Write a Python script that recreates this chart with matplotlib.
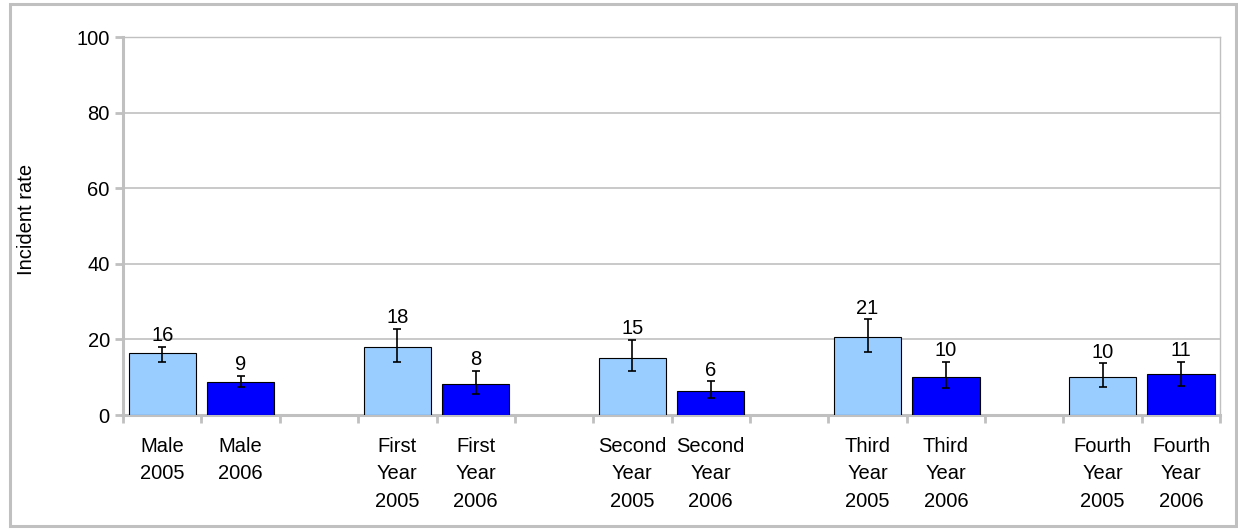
import matplotlib
matplotlib.use("Agg")
import matplotlib.pyplot as plt
from matplotlib.patches import Rectangle
import numpy as np

plt.rcParams['font.family'] = ['Liberation Sans', 'DejaVu Sans']

groups = ["Male", "First\nYear", "Second\nYear", "Third\nYear", "Fourth\nYear"]
years = ["2005", "2006"]
values_2005 = [16.3, 18.1, 15.0, 20.6, 10.0]
values_2006 = [8.8, 8.1, 6.3, 10.0, 10.8]
err_low_2005 = [14.0, 14.1, 11.7, 16.7, 7.3]
err_high_2005 = [18.1, 22.8, 19.9, 25.3, 13.7]
err_low_2006 = [7.5, 5.6, 4.4, 7.1, 7.8]
err_high_2006 = [10.4, 11.7, 8.9, 14.0, 14.0]
labels_2005 = ["16", "18", "15", "21", "10"]
labels_2006 = ["9", "8", "6", "10", "11"]
colors = ["#99CCFF", "#0000FF"]

fs = 14.5
fig = plt.figure(figsize=(12.38, 5.29), dpi=100)
ax = fig.add_axes([0.0994, 0.2155, 0.8862, 0.7145])

gray = "#c0c0c0"
n = len(groups)
slot = 3
series = [
    (values_2005, err_low_2005, err_high_2005, labels_2005),
    (values_2006, err_low_2006, err_high_2006, labels_2006),
]
tick_pos, tick_lab = [], []
for j, (vals, lo, hi, labs) in enumerate(series):
    x = np.arange(n) * slot + j
    vals = np.array(vals)
    yerr = np.array([vals - np.array(lo), np.array(hi) - vals])
    ax.bar(x, vals, width=0.86, color=colors[j], edgecolor="black",
           linewidth=0.8, zorder=3)
    ax.errorbar(x, vals, yerr=yerr, fmt="none", ecolor="black",
                elinewidth=1.2, capsize=3.2, capthick=1.2, zorder=4)
    for xi, h, t in zip(x, hi, labs):
        ax.annotate(t, (xi, h), xytext=(0, 8.0), textcoords="offset points",
                    ha="center", va="center", fontsize=fs)
    for xi, g in zip(x, groups):
        tick_pos.append(xi)
        tick_lab.append(g + "\n" + years[j])

ax.set_xlim(-0.5, n * slot - 1 - 0.5)
ax.set_ylim(0, 100)
ax.set_yticks(np.arange(0, 101, 20))
ax.set_xticks(tick_pos)
ax.set_xticklabels(tick_lab, fontsize=fs, linespacing=1.55, va="top")
ax.set_xticks(np.arange(-0.5, n * slot - 1, 1), minor=True)
ax.tick_params(axis="x", which="major", length=0, pad=16)
ax.tick_params(axis="x", which="minor", length=5.5, width=2, color=gray)
ax.tick_params(axis="y", length=5.5, width=2, color=gray, labelsize=fs, pad=4)

ax.yaxis.grid(True, color=gray, linewidth=1.2, zorder=0)
ax.set_axisbelow(True)
for s in ["left", "bottom"]:
    ax.spines[s].set_color(gray)
    ax.spines[s].set_linewidth(2.2)
for s in ["top", "right"]:
    ax.spines[s].set_color(gray)
    ax.spines[s].set_linewidth(1.0)

fig.text(27 / 1238, 1 - 219 / 529, "Incident rate", rotation=90,
         ha="center", va="center", fontsize=fs)

fig.patches.append(Rectangle((0.0081, 0.0057), 0.9903, 0.9867, transform=fig.transFigure,
                             fill=False, edgecolor=gray, linewidth=2.2))

fig.savefig("out.png", dpi=100)
